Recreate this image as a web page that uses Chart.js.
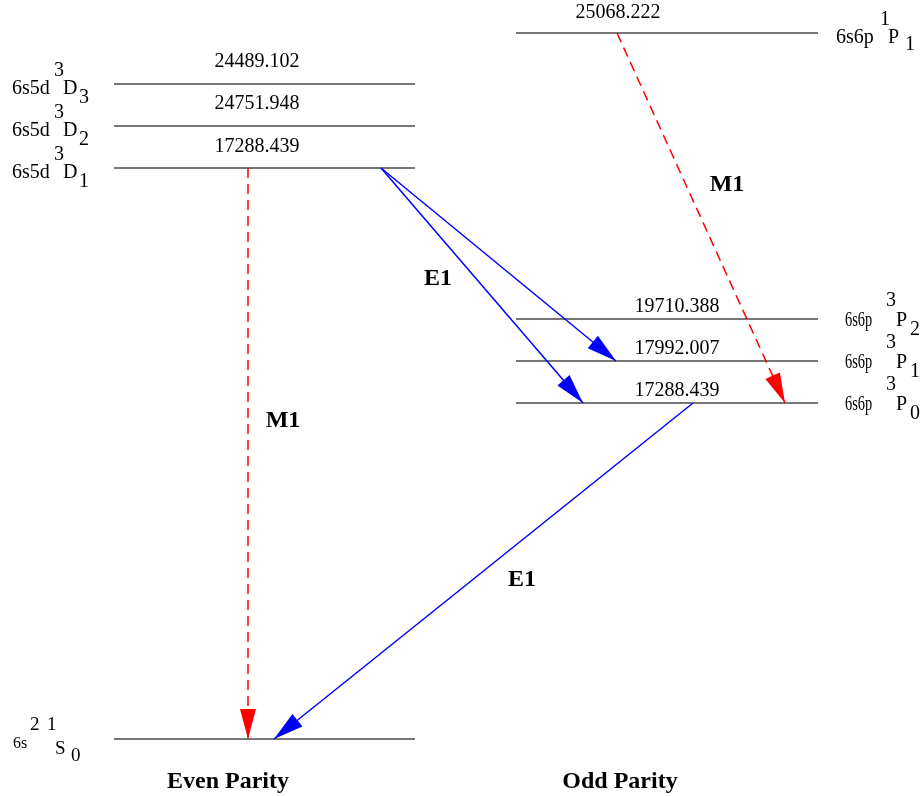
<!DOCTYPE html>
<html>
<head>
<meta charset="utf-8">
<script src="https://cdn.jsdelivr.net/npm/chart.js@4/dist/chart.umd.min.js"></script>
<style>
  html, body { margin: 0; padding: 0; background: #fff; }
  #wrap { width: 924px; height: 796px; }
</style>
</head>
<body>
<div id="wrap"><canvas id="levelChart" width="924" height="796"></canvas></div>
<script>
// energy levels, height = place of the level in the diagram (top = 0)
const levelConfig = ['6s5d', '6s5d', '6s5d', '6s', '6s6p', '6s6p', '6s6p', '6s6p'];
const levelMult = ['3', '3', '3', '1', '1', '3', '3', '3'];
const levelTerm = ['D', 'D', 'D', 'S', 'P', 'P', 'P', 'P'];
const levelJ = ['3', '2', '1', '0', '1', '2', '1', '0'];
const levelEnergy = ['24489.102', '24751.948', '17288.439', '', '25068.222', '19710.388', '17992.007', '17288.439'];
const levelHeight = [84, 126, 168, 739, 33, 319, 361, 403];
const levelParity = ['even', 'even', 'even', 'even', 'odd', 'odd', 'odd', 'odd'];

// transitions (index into the level arrays)
const transType = ['M1', 'M1', 'E1', 'E1', 'E1'];
const transFrom = [2, 4, 2, 2, 7];
const transTo = [3, 7, 6, 7, 3];
const transFromX = [248, 617, 381, 381, 693];
const transToX = [248, 785, 616, 583, 274];

// transition labels and column titles
const markLabels = ['M1', 'M1', 'E1', 'E1'];
const parityTitles = ['Even Parity', 'Odd Parity'];

// layout
const columnX = { even: [114, 415], odd: [516, 818] };
const energyTextX = [257, 257, 257, 0, 618, 677, 677, 677];
const energyTextDy = [-17, -17, -16, 0, -15, -7, -7, -7];
const termTextX = [12, 12, 12, 13, 836, 845, 845, 845];
const termScaleX = [1, 1, 1, 1, 1, 0.72, 0.72, 0.72];
const markLabelX = [283, 727, 438, 522];
const markLabelY = [421, 185, 279, 580];
const titleX = [228, 620];
const titleY = 788;

const SERIF = '"Liberation Serif", "Times New Roman", serif';

const datasets = [];
transType.forEach(function(t, i) {
  datasets.push({
    data: [{ x: transFromX[i], y: levelHeight[transFrom[i]] }, { x: transToX[i], y: levelHeight[transTo[i]] }],
    showLine: true,
    borderColor: t === 'M1' ? '#ff0000' : '#0000ff',
    borderWidth: 1.5,
    borderDash: t === 'M1' ? [10, 6] : [],
    pointRadius: 0,
    arrow: true
  });
});
levelHeight.forEach(function(h, i) {
  const cx = columnX[levelParity[i]];
  datasets.push({
    data: [{ x: cx[0], y: h }, { x: cx[1], y: h }],
    showLine: true,
    borderColor: '#4a4a4a',
    borderWidth: 1.4,
    pointRadius: 0
  });
});

function text(ctx, s, x, y, sx) {
  ctx.save();
  ctx.translate(x, y);
  ctx.scale(sx || 1, 1);
  ctx.fillText(s, 0, 0);
  ctx.restore();
}

// arrowheads and all the text
const diagramText = {
  id: 'diagramText',
  afterDatasetsDraw: function(chart) {
    const ctx = chart.ctx;
    const xs = chart.scales.x, ys = chart.scales.y;
    ctx.save();

    // arrowheads
    chart.data.datasets.forEach(function(ds) {
      if (!ds.arrow) return;
      const p0 = ds.data[0], p1 = ds.data[1];
      const x0 = xs.getPixelForValue(p0.x), y0 = ys.getPixelForValue(p0.y);
      const x1 = xs.getPixelForValue(p1.x), y1 = ys.getPixelForValue(p1.y);
      const a = Math.atan2(y1 - y0, x1 - x0);
      const len = 30, half = 8;
      const bx = x1 - len * Math.cos(a), by = y1 - len * Math.sin(a);
      ctx.fillStyle = ds.borderColor;
      ctx.beginPath();
      ctx.moveTo(x1, y1);
      ctx.lineTo(bx + half * Math.sin(a), by - half * Math.cos(a));
      ctx.lineTo(bx - half * Math.sin(a), by + half * Math.cos(a));
      ctx.closePath();
      ctx.fill();
    });

    ctx.fillStyle = '#000';
    ctx.textBaseline = 'alphabetic';

    // energies above the levels
    ctx.font = '20px ' + SERIF;
    ctx.textAlign = 'center';
    levelEnergy.forEach(function(e, i) {
      if (!e) return;
      ctx.fillText(e, energyTextX[i], ys.getPixelForValue(levelHeight[i]) + energyTextDy[i]);
    });

    // term symbols
    ctx.textAlign = 'left';
    levelHeight.forEach(function(h, i) {
      const y = ys.getPixelForValue(h);
      const x = termTextX[i];
      if (levelTerm[i] === 'S') {
        ctx.font = '16px ' + SERIF;
        text(ctx, levelConfig[i], x, y + 9);
        ctx.font = '19px ' + SERIF;
        text(ctx, '2', x + 17, y - 9);
        text(ctx, levelMult[i], x + 34, y - 9);
        text(ctx, levelTerm[i], x + 42, y + 15);
        text(ctx, levelJ[i], x + 58, y + 22);
      } else if (levelParity[i] === 'even') {
        ctx.font = '20px ' + SERIF;
        text(ctx, levelConfig[i], x, y + 10);
        text(ctx, levelMult[i], x + 42, y - 8);
        text(ctx, levelTerm[i], x + 51, y + 10);
        text(ctx, levelJ[i], x + 67, y + 19);
      } else if (i === 4) {
        ctx.font = '20px ' + SERIF;
        text(ctx, levelConfig[i], x, y + 10);
        text(ctx, levelMult[i], x + 44, y - 8);
        text(ctx, levelTerm[i], x + 52, y + 10);
        text(ctx, levelJ[i], x + 69, y + 17);
      } else {
        ctx.font = '20px ' + SERIF;
        text(ctx, levelConfig[i], x, y + 7, termScaleX[i]);
        text(ctx, levelMult[i], x + 41, y - 13);
        text(ctx, levelTerm[i], x + 51, y + 7);
        text(ctx, levelJ[i], x + 65, y + 16);
      }
    });

    // transition labels
    ctx.font = 'bold 24px ' + SERIF;
    ctx.textAlign = 'center';
    ctx.textBaseline = 'middle';
    markLabels.forEach(function(m, i) {
      ctx.fillText(m, xs.getPixelForValue(markLabelX[i]), ys.getPixelForValue(markLabelY[i]));
    });

    // column titles
    ctx.textBaseline = 'alphabetic';
    parityTitles.forEach(function(t, i) {
      ctx.fillText(t, xs.getPixelForValue(titleX[i]), ys.getPixelForValue(titleY));
    });
    ctx.restore();
  }
};

new Chart(document.getElementById('levelChart').getContext('2d'), {
  type: 'scatter',
  data: { datasets: datasets },
  options: {
    responsive: false,
    animation: false,
    layout: { padding: 0 },
    scales: {
      x: { type: 'linear', min: 0, max: 924, display: false },
      y: { type: 'linear', min: 0, max: 796, reverse: true, display: false }
    },
    plugins: {
      legend: { display: false },
      tooltip: { enabled: false }
    }
  },
  plugins: [diagramText]
});
</script>
</body>
</html>
